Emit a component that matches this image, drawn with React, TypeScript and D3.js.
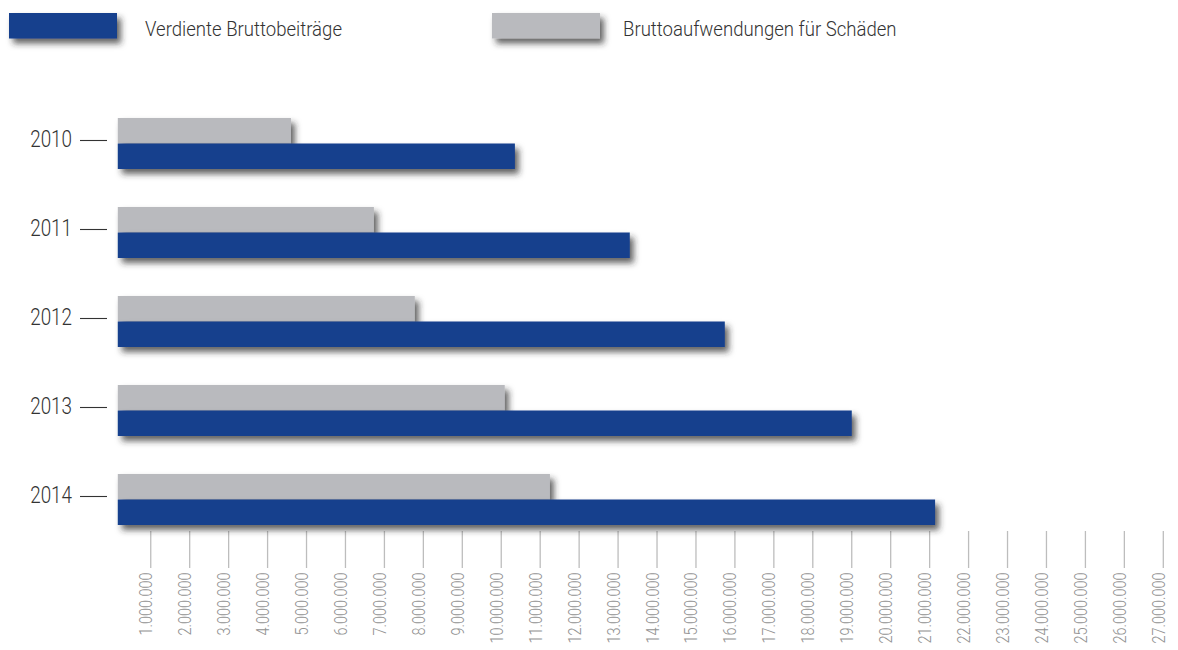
import React from "react";
import * as d3 from "d3";

const years = ["2010", "2011", "2012", "2013", "2014"];
const bruttobeitraege = [10.35e6, 13.3e6, 15.74e6, 19.0e6, 21.14e6];
const schaeden = [4.6e6, 6.73e6, 7.78e6, 10.09e6, 11.25e6];
const tickValues = d3.range(1, 28).map((d) => d * 1e6);
const seriesNames = ["Verdiente Bruttobeiträge", "Bruttoaufwendungen für Schäden"];

const BLUE = "#123F8D";
const GRAY = "#B9BABE";
const FONT = "Roboto, 'Liberation Sans', sans-serif";

const fmt = (v: number) => d3.format(",")(v).replace(/,/g, ".");

export default function App() {
  const W = 1178;
  const H = 650;
  const x = d3.scaleLinear().domain([0, 27e6]).range([111.8, 1163.3]);
  const barInset = 6;
  const y = d3.scalePoint<string>().domain(years).range([118, 474]);
  const bh = 25.5;
  const tickTop = 531;
  const tickBottom = 568;

  return (
    <svg
      width={W}
      height={H}
      style={{ position: "absolute", left: 0, top: 0, background: "#fff" }}
      fontFamily={FONT}
      fontWeight={300}
    >
      <defs>
        <filter id="sh" x="-20%" y="-50%" width="140%" height="200%">
          <feDropShadow dx="4" dy="5" stdDeviation="3.2" floodColor="#2a2a2a" floodOpacity="0.72" />
        </filter>
      </defs>

      {/* Legend */}
      <g>
        <rect x={9} y={13} width={108} height={25.5} fill={BLUE} filter="url(#sh)" />
        <text transform={`translate(145,30) scale(0.885,1)`} dominantBaseline="middle" fontSize={21} fill="#333">
          {seriesNames[0]}
        </text>
        <rect x={492} y={13} width={108} height={25.5} fill={GRAY} filter="url(#sh)" />
        <text transform={`translate(623,30) scale(0.885,1)`} dominantBaseline="middle" fontSize={21} fill="#333">
          {seriesNames[1]}
        </text>
      </g>

      {/* ticks */}
      <g>
        {tickValues.map((t) => (
          <g key={t}>
            <line x1={x(t)} x2={x(t)} y1={tickTop} y2={tickBottom} stroke="#BDBDBD" strokeWidth={1.3} />
            <text
              transform={`translate(${x(t) + 1.5},${tickBottom + 4.5}) rotate(-90) scale(0.79,1)`}
              textAnchor="end"
              fontSize={18.3}
              fill="#929292"
            >
              {fmt(t)}
            </text>
          </g>
        ))}
      </g>

      {/* bars */}
      {years.map((yr, i) => {
        const top = y(yr)!;
        const ly = top + bh - 3;
        return (
          <g key={yr}>
            <rect
              x={x(0) + barInset}
              y={top}
              width={x(schaeden[i]) - x(0) - barInset}
              height={bh}
              fill={GRAY}
              filter="url(#sh)"
            />
            <rect
              x={x(0) + barInset}
              y={top + bh}
              width={x(bruttobeitraege[i]) - x(0) - barInset}
              height={bh}
              fill={BLUE}
              filter="url(#sh)"
            />
            <text
              transform={`translate(72,${ly}) scale(0.82,1)`}
              textAnchor="end"
              dominantBaseline="middle"
              fontSize={23}
              fill="#333"
            >
              {yr}
            </text>
            <line x1={80} x2={107} y1={ly} y2={ly} stroke="#333" strokeWidth={1.1} />
          </g>
        );
      })}
    </svg>
  );
}
